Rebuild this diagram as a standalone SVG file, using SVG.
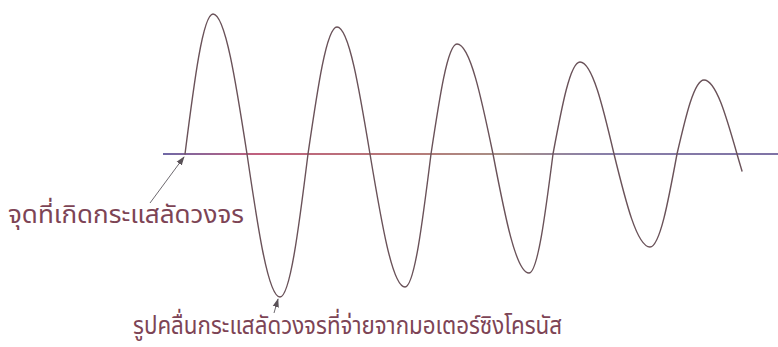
<svg xmlns="http://www.w3.org/2000/svg" width="778" height="347" viewBox="0 0 778 347">
<style>
.wave{fill:none;stroke:#6a5259;stroke-width:1.4;stroke-linejoin:round;stroke-linecap:round}
.axis{fill:none;stroke:url(#axisGrad);stroke-width:1.8}
.lead{fill:none;stroke:#6e6a70;stroke-width:1}
.lbl{font-family:"Noto Sans Thai","Noto Sans","DejaVu Sans",sans-serif;font-size:25px;fill:#7d4455}
</style>
<defs>
<linearGradient id="axisGrad" gradientUnits="userSpaceOnUse" x1="163" y1="0" x2="778" y2="0">
<stop offset="0" stop-color="#6f68a6"/>
<stop offset="0.15" stop-color="#c0607e"/>
<stop offset="0.4" stop-color="#b77a78"/>
<stop offset="0.55" stop-color="#a88f86"/>
<stop offset="0.7" stop-color="#8a80a8"/>
<stop offset="1" stop-color="#7f73a6"/>
</linearGradient>
<marker id="head" viewBox="0 0 10 10" refX="9" refY="5" markerWidth="9" markerHeight="9" markerUnits="userSpaceOnUse" orient="auto">
<path d="M0,1.5 L10,5 L0,8.5 Z" fill="#5a5258"/>
</marker>
</defs>
<g id="axis"><line class="axis" x1="163" y1="154" x2="778" y2="154"/></g>
<g id="waveform">
<path class="wave" d="M185,154 C194.1,82.3 202.9,14 213,14 C225.3,14 235.9,82.3 247,154 C257.8,227.3 268.1,297 280,297 C290.1,297 298.9,227.3 308,154 C317.5,88.9 326.5,27 337,27 C348.9,27 359.2,88.9 370,154 C381.4,222.2 392.3,287 405,287 C414.4,287 422.5,222.2 431,154 C439.5,97.6 447.6,44 457,44 C470,44 481.3,97.6 493,154 C504.7,215 516,273 529,273 C537.7,273 545.2,215 553,154 C561.8,106.8 570.2,62 580,62 C592.3,62 602.9,106.8 614,154 C625.7,201.7 637,247 650,247 C659.8,247 668.2,201.7 677,154 C685.8,116.1 694.2,80 704,80 C715.9,80 726.2,116.1 737,154 C739,161 740.5,166 742,171"/>
</g>
<g id="connectors">
<line class="lead" x1="150" y1="203" x2="184" y2="157" marker-end="url(#head)"/>
<line class="lead" x1="274" y1="313" x2="278" y2="299" marker-end="url(#head)"/>
</g>
<g id="label-fault-point"><text class="lbl" x="8" y="223" textLength="236" lengthAdjust="spacingAndGlyphs">จุดที่เกิดกระแสลัดวงจร</text></g>
<g id="label-waveform"><text class="lbl" x="133" y="334" textLength="429" lengthAdjust="spacingAndGlyphs">รูปคลื่นกระแสลัดวงจรที่จ่ายจากมอเตอร์ซิงโครนัส</text></g>
</svg>
